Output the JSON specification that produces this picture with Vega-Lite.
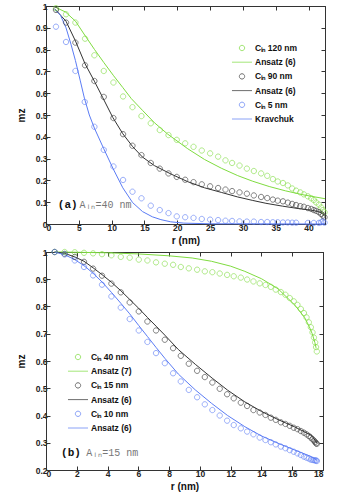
{
  "$schema": "https://vega.github.io/schema/vega-lite/v6.json",
  "background": "white",
  "padding": {"left": 15, "top": 1, "right": 5, "bottom": 3},
  "spacing": 1,
  "resolve": {"scale": {"color": "independent", "shape": "independent"}, "legend": {"color": "independent", "shape": "independent"}},
  "config": {
    "view": {"stroke": "#333", "strokeWidth": 1},
    "axis": {"grid": false, "tickSize": -4, "tickColor": "#333", "domainColor": "#333", "labelFont": "Liberation Sans", "labelFontWeight": "bold", "labelFontSize": 8.5, "labelColor": "#222", "titleFont": "Liberation Sans", "titleFontWeight": "bold", "titleFontSize": 10, "titleColor": "#111", "labelPadding": 3, "titlePadding": 4},
    "axisY": {"titlePadding": 9},
    "legend": {"labelFont": "Liberation Sans", "labelFontWeight": "bold", "labelFontSize": 8.5, "labelColor": "#111", "labelOffset": 6, "rowPadding": 2.2, "padding": 0, "symbolStrokeWidth": 1, "symbolSize": 169}
  },
  "datasets": {
    "a_pts": [
      {"s": "Cᵢₙ 120 nm", "r": 1.52, "m": 0.99}, {"s": "Cᵢₙ 120 nm", "r": 3.05, "m": 0.962}, {"s": "Cᵢₙ 120 nm", "r": 4.48, "m": 0.924}, {"s": "Cᵢₙ 120 nm", "r": 5.95, "m": 0.85}, {"s": "Cᵢₙ 120 nm", "r": 7.37, "m": 0.774}, {"s": "Cᵢₙ 120 nm", "r": 8.8, "m": 0.702}, {"s": "Cᵢₙ 120 nm", "r": 10.27, "m": 0.649}, {"s": "Cᵢₙ 120 nm", "r": 11.74, "m": 0.585}, {"s": "Cᵢₙ 120 nm", "r": 13.17, "m": 0.536}, {"s": "Cᵢₙ 120 nm", "r": 14.54, "m": 0.495}, {"s": "Cᵢₙ 120 nm", "r": 15.96, "m": 0.462}, {"s": "Cᵢₙ 120 nm", "r": 17.33, "m": 0.431}, {"s": "Cᵢₙ 120 nm", "r": 18.66, "m": 0.408}, {"s": "Cᵢₙ 120 nm", "r": 19.92, "m": 0.386}, {"s": "Cᵢₙ 120 nm", "r": 21.2, "m": 0.37}, {"s": "Cᵢₙ 120 nm", "r": 22.47, "m": 0.354}, {"s": "Cᵢₙ 120 nm", "r": 23.73, "m": 0.337}, {"s": "Cᵢₙ 120 nm", "r": 25.0, "m": 0.324}, {"s": "Cᵢₙ 120 nm", "r": 26.22, "m": 0.309}, {"s": "Cᵢₙ 120 nm", "r": 27.34, "m": 0.292}, {"s": "Cᵢₙ 120 nm", "r": 28.35, "m": 0.28}, {"s": "Cᵢₙ 120 nm", "r": 29.48, "m": 0.268}, {"s": "Cᵢₙ 120 nm", "r": 30.6, "m": 0.254}, {"s": "Cᵢₙ 120 nm", "r": 31.66, "m": 0.243}, {"s": "Cᵢₙ 120 nm", "r": 32.77, "m": 0.232}, {"s": "Cᵢₙ 120 nm", "r": 33.7, "m": 0.221}, {"s": "Cᵢₙ 120 nm", "r": 34.56, "m": 0.206}, {"s": "Cᵢₙ 120 nm", "r": 35.3, "m": 0.195}, {"s": "Cᵢₙ 120 nm", "r": 36.1, "m": 0.188}, {"s": "Cᵢₙ 120 nm", "r": 36.84, "m": 0.177}, {"s": "Cᵢₙ 120 nm", "r": 37.5, "m": 0.163}, {"s": "Cᵢₙ 120 nm", "r": 38.1, "m": 0.153}, {"s": "Cᵢₙ 120 nm", "r": 38.73, "m": 0.145}, {"s": "Cᵢₙ 120 nm", "r": 39.28, "m": 0.136}, {"s": "Cᵢₙ 120 nm", "r": 39.89, "m": 0.127}, {"s": "Cᵢₙ 120 nm", "r": 40.4, "m": 0.118}, {"s": "Cᵢₙ 120 nm", "r": 40.8, "m": 0.11}, {"s": "Cᵢₙ 120 nm", "r": 41.16, "m": 0.099}, {"s": "Cᵢₙ 120 nm", "r": 41.57, "m": 0.089}, {"s": "Cᵢₙ 120 nm", "r": 41.92, "m": 0.076}, {"s": "Cᵢₙ 120 nm", "r": 42.18, "m": 0.064}, {"s": "Cᵢₙ 120 nm", "r": 42.43, "m": 0.054},
      {"s": "Cᵢₙ 90 nm", "r": 1.52, "m": 0.982}, {"s": "Cᵢₙ 90 nm", "r": 3.05, "m": 0.924}, {"s": "Cᵢₙ 90 nm", "r": 4.48, "m": 0.832}, {"s": "Cᵢₙ 90 nm", "r": 5.95, "m": 0.728}, {"s": "Cᵢₙ 90 nm", "r": 7.37, "m": 0.656}, {"s": "Cᵢₙ 90 nm", "r": 8.8, "m": 0.583}, {"s": "Cᵢₙ 90 nm", "r": 10.27, "m": 0.486}, {"s": "Cᵢₙ 90 nm", "r": 11.74, "m": 0.412}, {"s": "Cᵢₙ 90 nm", "r": 13.17, "m": 0.359}, {"s": "Cᵢₙ 90 nm", "r": 14.54, "m": 0.316}, {"s": "Cᵢₙ 90 nm", "r": 15.96, "m": 0.28}, {"s": "Cᵢₙ 90 nm", "r": 17.33, "m": 0.254}, {"s": "Cᵢₙ 90 nm", "r": 18.66, "m": 0.232}, {"s": "Cᵢₙ 90 nm", "r": 19.92, "m": 0.216}, {"s": "Cᵢₙ 90 nm", "r": 21.2, "m": 0.203}, {"s": "Cᵢₙ 90 nm", "r": 22.47, "m": 0.192}, {"s": "Cᵢₙ 90 nm", "r": 23.73, "m": 0.182}, {"s": "Cᵢₙ 90 nm", "r": 25.0, "m": 0.173}, {"s": "Cᵢₙ 90 nm", "r": 26.22, "m": 0.165}, {"s": "Cᵢₙ 90 nm", "r": 27.34, "m": 0.158}, {"s": "Cᵢₙ 90 nm", "r": 28.35, "m": 0.151}, {"s": "Cᵢₙ 90 nm", "r": 29.48, "m": 0.145}, {"s": "Cᵢₙ 90 nm", "r": 30.6, "m": 0.139}, {"s": "Cᵢₙ 90 nm", "r": 31.66, "m": 0.131}, {"s": "Cᵢₙ 90 nm", "r": 32.77, "m": 0.124}, {"s": "Cᵢₙ 90 nm", "r": 33.7, "m": 0.119}, {"s": "Cᵢₙ 90 nm", "r": 34.56, "m": 0.112}, {"s": "Cᵢₙ 90 nm", "r": 35.3, "m": 0.107}, {"s": "Cᵢₙ 90 nm", "r": 36.1, "m": 0.104}, {"s": "Cᵢₙ 90 nm", "r": 36.84, "m": 0.098}, {"s": "Cᵢₙ 90 nm", "r": 37.5, "m": 0.092}, {"s": "Cᵢₙ 90 nm", "r": 38.1, "m": 0.087}, {"s": "Cᵢₙ 90 nm", "r": 38.73, "m": 0.082}, {"s": "Cᵢₙ 90 nm", "r": 39.28, "m": 0.079}, {"s": "Cᵢₙ 90 nm", "r": 39.89, "m": 0.073}, {"s": "Cᵢₙ 90 nm", "r": 40.4, "m": 0.069}, {"s": "Cᵢₙ 90 nm", "r": 40.8, "m": 0.064}, {"s": "Cᵢₙ 90 nm", "r": 41.16, "m": 0.06}, {"s": "Cᵢₙ 90 nm", "r": 41.57, "m": 0.054}, {"s": "Cᵢₙ 90 nm", "r": 41.92, "m": 0.046}, {"s": "Cᵢₙ 90 nm", "r": 42.18, "m": 0.038}, {"s": "Cᵢₙ 90 nm", "r": 42.43, "m": 0.031},
      {"s": "Cᵢₙ 5 nm", "r": 1.52, "m": 0.905}, {"s": "Cᵢₙ 5 nm", "r": 3.05, "m": 0.835}, {"s": "Cᵢₙ 5 nm", "r": 4.48, "m": 0.702}, {"s": "Cᵢₙ 5 nm", "r": 5.9, "m": 0.56}, {"s": "Cᵢₙ 5 nm", "r": 7.37, "m": 0.446}, {"s": "Cᵢₙ 5 nm", "r": 8.8, "m": 0.34}, {"s": "Cᵢₙ 5 nm", "r": 10.27, "m": 0.264}, {"s": "Cᵢₙ 5 nm", "r": 11.74, "m": 0.202}, {"s": "Cᵢₙ 5 nm", "r": 13.17, "m": 0.148}, {"s": "Cᵢₙ 5 nm", "r": 14.54, "m": 0.118}, {"s": "Cᵢₙ 5 nm", "r": 15.96, "m": 0.084}, {"s": "Cᵢₙ 5 nm", "r": 17.33, "m": 0.064}, {"s": "Cᵢₙ 5 nm", "r": 18.66, "m": 0.05}, {"s": "Cᵢₙ 5 nm", "r": 19.92, "m": 0.035}, {"s": "Cᵢₙ 5 nm", "r": 21.2, "m": 0.031}, {"s": "Cᵢₙ 5 nm", "r": 22.47, "m": 0.028}, {"s": "Cᵢₙ 5 nm", "r": 23.73, "m": 0.023}, {"s": "Cᵢₙ 5 nm", "r": 25.0, "m": 0.02}, {"s": "Cᵢₙ 5 nm", "r": 26.22, "m": 0.018}, {"s": "Cᵢₙ 5 nm", "r": 27.34, "m": 0.015}, {"s": "Cᵢₙ 5 nm", "r": 28.35, "m": 0.014}, {"s": "Cᵢₙ 5 nm", "r": 29.48, "m": 0.012}, {"s": "Cᵢₙ 5 nm", "r": 30.6, "m": 0.011}, {"s": "Cᵢₙ 5 nm", "r": 31.66, "m": 0.011}, {"s": "Cᵢₙ 5 nm", "r": 32.77, "m": 0.009}, {"s": "Cᵢₙ 5 nm", "r": 33.7, "m": 0.009}, {"s": "Cᵢₙ 5 nm", "r": 34.56, "m": 0.008}, {"s": "Cᵢₙ 5 nm", "r": 35.3, "m": 0.008}, {"s": "Cᵢₙ 5 nm", "r": 36.1, "m": 0.007}, {"s": "Cᵢₙ 5 nm", "r": 36.84, "m": 0.007}, {"s": "Cᵢₙ 5 nm", "r": 37.5, "m": 0.006}, {"s": "Cᵢₙ 5 nm", "r": 38.1, "m": 0.006}, {"s": "Cᵢₙ 5 nm", "r": 39.89, "m": 0.005}, {"s": "Cᵢₙ 5 nm", "r": 40.8, "m": 0.005}, {"s": "Cᵢₙ 5 nm", "r": 41.57, "m": 0.005}, {"s": "Cᵢₙ 5 nm", "r": 41.92, "m": 0.008}, {"s": "Cᵢₙ 5 nm", "r": 42.18, "m": 0.012}, {"s": "Cᵢₙ 5 nm", "r": 42.43, "m": 0.006}
    ],
    "a_lines": [
      {"s": "Ansatz (6)", "r": 1.4, "m": 0.995}, {"s": "Ansatz (6)", "r": 3.0, "m": 0.972}, {"s": "Ansatz (6)", "r": 4.5, "m": 0.93}, {"s": "Ansatz (6)", "r": 6.0, "m": 0.862}, {"s": "Ansatz (6)", "r": 7.4, "m": 0.8}, {"s": "Ansatz (6)", "r": 8.8, "m": 0.741}, {"s": "Ansatz (6)", "r": 10.3, "m": 0.68}, {"s": "Ansatz (6)", "r": 11.7, "m": 0.626}, {"s": "Ansatz (6)", "r": 13.0, "m": 0.575}, {"s": "Ansatz (6)", "r": 14.74, "m": 0.52}, {"s": "Ansatz (6)", "r": 16.5, "m": 0.465}, {"s": "Ansatz (6)", "r": 18.55, "m": 0.412}, {"s": "Ansatz (6)", "r": 21.6, "m": 0.345}, {"s": "Ansatz (6)", "r": 24.15, "m": 0.296}, {"s": "Ansatz (6)", "r": 26.7, "m": 0.256}, {"s": "Ansatz (6)", "r": 29.2, "m": 0.222}, {"s": "Ansatz (6)", "r": 31.5, "m": 0.196}, {"s": "Ansatz (6)", "r": 34.0, "m": 0.172}, {"s": "Ansatz (6)", "r": 36.5, "m": 0.152}, {"s": "Ansatz (6)", "r": 39.0, "m": 0.135}, {"s": "Ansatz (6)", "r": 41.0, "m": 0.124}, {"s": "Ansatz (6)", "r": 42.5, "m": 0.116},
      {"s": "Ansatz (6) ", "r": 1.4, "m": 0.985}, {"s": "Ansatz (6) ", "r": 3.05, "m": 0.93}, {"s": "Ansatz (6) ", "r": 4.48, "m": 0.84}, {"s": "Ansatz (6) ", "r": 5.95, "m": 0.735}, {"s": "Ansatz (6) ", "r": 7.37, "m": 0.655}, {"s": "Ansatz (6) ", "r": 8.64, "m": 0.58}, {"s": "Ansatz (6) ", "r": 10.17, "m": 0.489}, {"s": "Ansatz (6) ", "r": 11.7, "m": 0.414}, {"s": "Ansatz (6) ", "r": 13.2, "m": 0.355}, {"s": "Ansatz (6) ", "r": 14.7, "m": 0.307}, {"s": "Ansatz (6) ", "r": 16.5, "m": 0.268}, {"s": "Ansatz (6) ", "r": 19.05, "m": 0.229}, {"s": "Ansatz (6) ", "r": 21.6, "m": 0.194}, {"s": "Ansatz (6) ", "r": 24.15, "m": 0.166}, {"s": "Ansatz (6) ", "r": 26.7, "m": 0.145}, {"s": "Ansatz (6) ", "r": 29.2, "m": 0.124}, {"s": "Ansatz (6) ", "r": 31.5, "m": 0.108}, {"s": "Ansatz (6) ", "r": 33.5, "m": 0.095}, {"s": "Ansatz (6) ", "r": 36.0, "m": 0.082}, {"s": "Ansatz (6) ", "r": 38.4, "m": 0.071}, {"s": "Ansatz (6) ", "r": 40.5, "m": 0.063}, {"s": "Ansatz (6) ", "r": 41.5, "m": 0.057}, {"s": "Ansatz (6) ", "r": 42.0, "m": 0.05}, {"s": "Ansatz (6) ", "r": 42.5, "m": 0.035},
      {"s": "Kravchuk", "r": 1.3, "m": 0.985}, {"s": "Kravchuk", "r": 2.2, "m": 0.958}, {"s": "Kravchuk", "r": 3.05, "m": 0.9}, {"s": "Kravchuk", "r": 3.8, "m": 0.825}, {"s": "Kravchuk", "r": 4.48, "m": 0.75}, {"s": "Kravchuk", "r": 5.2, "m": 0.66}, {"s": "Kravchuk", "r": 5.85, "m": 0.577}, {"s": "Kravchuk", "r": 6.6, "m": 0.5}, {"s": "Kravchuk", "r": 7.37, "m": 0.44}, {"s": "Kravchuk", "r": 8.8, "m": 0.345}, {"s": "Kravchuk", "r": 10.2, "m": 0.255}, {"s": "Kravchuk", "r": 11.7, "m": 0.166}, {"s": "Kravchuk", "r": 13.2, "m": 0.098}, {"s": "Kravchuk", "r": 14.7, "m": 0.057}, {"s": "Kravchuk", "r": 16.2, "m": 0.033}, {"s": "Kravchuk", "r": 17.5, "m": 0.02}, {"s": "Kravchuk", "r": 19.0, "m": 0.01}, {"s": "Kravchuk", "r": 21.0, "m": 0.004}, {"s": "Kravchuk", "r": 25.0, "m": 0.001}, {"s": "Kravchuk", "r": 42.5, "m": 0.0}
    ],
    "a_text": [
      {"r": 1.8, "m": 0.087, "t": "(a)", "k": "tag"},
      {"r": 5.1, "m": 0.087, "t": "Aᵢₙ=40 nm", "k": "val"}
    ],
    "b_pts": [
      {"s": "Cᵢₙ 40 nm", "r": 0.56, "m": 1.0}, {"s": "Cᵢₙ 40 nm", "r": 1.21, "m": 1.0}, {"s": "Cᵢₙ 40 nm", "r": 1.87, "m": 0.999}, {"s": "Cᵢₙ 40 nm", "r": 2.47, "m": 0.997}, {"s": "Cᵢₙ 40 nm", "r": 3.06, "m": 0.995}, {"s": "Cᵢₙ 40 nm", "r": 3.64, "m": 0.992}, {"s": "Cᵢₙ 40 nm", "r": 4.25, "m": 0.988}, {"s": "Cᵢₙ 40 nm", "r": 4.86, "m": 0.982}, {"s": "Cᵢₙ 40 nm", "r": 5.44, "m": 0.979}, {"s": "Cᵢₙ 40 nm", "r": 6.03, "m": 0.972}, {"s": "Cᵢₙ 40 nm", "r": 6.59, "m": 0.969}, {"s": "Cᵢₙ 40 nm", "r": 7.15, "m": 0.962}, {"s": "Cᵢₙ 40 nm", "r": 7.72, "m": 0.957}, {"s": "Cᵢₙ 40 nm", "r": 8.26, "m": 0.953}, {"s": "Cᵢₙ 40 nm", "r": 8.76, "m": 0.945}, {"s": "Cᵢₙ 40 nm", "r": 9.28, "m": 0.94}, {"s": "Cᵢₙ 40 nm", "r": 9.82, "m": 0.935}, {"s": "Cᵢₙ 40 nm", "r": 10.32, "m": 0.929}, {"s": "Cᵢₙ 40 nm", "r": 10.81, "m": 0.926}, {"s": "Cᵢₙ 40 nm", "r": 11.29, "m": 0.921}, {"s": "Cᵢₙ 40 nm", "r": 11.77, "m": 0.916}, {"s": "Cᵢₙ 40 nm", "r": 12.2, "m": 0.911}, {"s": "Cᵢₙ 40 nm", "r": 12.66, "m": 0.906}, {"s": "Cᵢₙ 40 nm", "r": 13.07, "m": 0.899}, {"s": "Cᵢₙ 40 nm", "r": 13.48, "m": 0.892}, {"s": "Cᵢₙ 40 nm", "r": 13.89, "m": 0.885}, {"s": "Cᵢₙ 40 nm", "r": 14.26, "m": 0.879}, {"s": "Cᵢₙ 40 nm", "r": 14.61, "m": 0.872}, {"s": "Cᵢₙ 40 nm", "r": 14.93, "m": 0.862}, {"s": "Cᵢₙ 40 nm", "r": 15.26, "m": 0.853}, {"s": "Cᵢₙ 40 nm", "r": 15.56, "m": 0.843}, {"s": "Cᵢₙ 40 nm", "r": 15.84, "m": 0.831}, {"s": "Cᵢₙ 40 nm", "r": 16.1, "m": 0.819}, {"s": "Cᵢₙ 40 nm", "r": 16.34, "m": 0.806}, {"s": "Cᵢₙ 40 nm", "r": 16.56, "m": 0.791}, {"s": "Cᵢₙ 40 nm", "r": 16.76, "m": 0.776}, {"s": "Cᵢₙ 40 nm", "r": 16.93, "m": 0.76}, {"s": "Cᵢₙ 40 nm", "r": 17.08, "m": 0.742}, {"s": "Cᵢₙ 40 nm", "r": 17.21, "m": 0.724}, {"s": "Cᵢₙ 40 nm", "r": 17.32, "m": 0.705}, {"s": "Cᵢₙ 40 nm", "r": 17.41, "m": 0.686}, {"s": "Cᵢₙ 40 nm", "r": 17.49, "m": 0.668}, {"s": "Cᵢₙ 40 nm", "r": 17.55, "m": 0.651}, {"s": "Cᵢₙ 40 nm", "r": 17.6, "m": 0.635},
      {"s": "Cᵢₙ 15 nm", "r": 0.56, "m": 1.0}, {"s": "Cᵢₙ 15 nm", "r": 1.21, "m": 0.993}, {"s": "Cᵢₙ 15 nm", "r": 1.87, "m": 0.982}, {"s": "Cᵢₙ 15 nm", "r": 2.47, "m": 0.964}, {"s": "Cᵢₙ 15 nm", "r": 3.06, "m": 0.939}, {"s": "Cᵢₙ 15 nm", "r": 3.64, "m": 0.913}, {"s": "Cᵢₙ 15 nm", "r": 4.25, "m": 0.884}, {"s": "Cᵢₙ 15 nm", "r": 4.86, "m": 0.852}, {"s": "Cᵢₙ 15 nm", "r": 5.44, "m": 0.815}, {"s": "Cᵢₙ 15 nm", "r": 6.03, "m": 0.782}, {"s": "Cᵢₙ 15 nm", "r": 6.59, "m": 0.745}, {"s": "Cᵢₙ 15 nm", "r": 7.15, "m": 0.712}, {"s": "Cᵢₙ 15 nm", "r": 7.72, "m": 0.678}, {"s": "Cᵢₙ 15 nm", "r": 8.26, "m": 0.647}, {"s": "Cᵢₙ 15 nm", "r": 8.76, "m": 0.619}, {"s": "Cᵢₙ 15 nm", "r": 9.28, "m": 0.59}, {"s": "Cᵢₙ 15 nm", "r": 9.82, "m": 0.564}, {"s": "Cᵢₙ 15 nm", "r": 10.32, "m": 0.541}, {"s": "Cᵢₙ 15 nm", "r": 10.81, "m": 0.521}, {"s": "Cᵢₙ 15 nm", "r": 11.29, "m": 0.498}, {"s": "Cᵢₙ 15 nm", "r": 11.77, "m": 0.478}, {"s": "Cᵢₙ 15 nm", "r": 12.2, "m": 0.463}, {"s": "Cᵢₙ 15 nm", "r": 12.66, "m": 0.447}, {"s": "Cᵢₙ 15 nm", "r": 13.07, "m": 0.435}, {"s": "Cᵢₙ 15 nm", "r": 13.48, "m": 0.42}, {"s": "Cᵢₙ 15 nm", "r": 13.89, "m": 0.411}, {"s": "Cᵢₙ 15 nm", "r": 14.26, "m": 0.402}, {"s": "Cᵢₙ 15 nm", "r": 14.61, "m": 0.392}, {"s": "Cᵢₙ 15 nm", "r": 14.93, "m": 0.384}, {"s": "Cᵢₙ 15 nm", "r": 15.26, "m": 0.375}, {"s": "Cᵢₙ 15 nm", "r": 15.56, "m": 0.369}, {"s": "Cᵢₙ 15 nm", "r": 15.84, "m": 0.362}, {"s": "Cᵢₙ 15 nm", "r": 16.1, "m": 0.355}, {"s": "Cᵢₙ 15 nm", "r": 16.34, "m": 0.35}, {"s": "Cᵢₙ 15 nm", "r": 16.56, "m": 0.343}, {"s": "Cᵢₙ 15 nm", "r": 16.76, "m": 0.337}, {"s": "Cᵢₙ 15 nm", "r": 16.93, "m": 0.331}, {"s": "Cᵢₙ 15 nm", "r": 17.08, "m": 0.325}, {"s": "Cᵢₙ 15 nm", "r": 17.21, "m": 0.319}, {"s": "Cᵢₙ 15 nm", "r": 17.32, "m": 0.313}, {"s": "Cᵢₙ 15 nm", "r": 17.41, "m": 0.308}, {"s": "Cᵢₙ 15 nm", "r": 17.49, "m": 0.303}, {"s": "Cᵢₙ 15 nm", "r": 17.55, "m": 0.298}, {"s": "Cᵢₙ 15 nm", "r": 17.6, "m": 0.296},
      {"s": "Cᵢₙ 10 nm", "r": 0.56, "m": 1.0}, {"s": "Cᵢₙ 10 nm", "r": 1.21, "m": 0.991}, {"s": "Cᵢₙ 10 nm", "r": 1.87, "m": 0.969}, {"s": "Cᵢₙ 10 nm", "r": 2.47, "m": 0.945}, {"s": "Cᵢₙ 10 nm", "r": 3.06, "m": 0.914}, {"s": "Cᵢₙ 10 nm", "r": 3.64, "m": 0.88}, {"s": "Cᵢₙ 10 nm", "r": 4.25, "m": 0.837}, {"s": "Cᵢₙ 10 nm", "r": 4.86, "m": 0.796}, {"s": "Cᵢₙ 10 nm", "r": 5.44, "m": 0.754}, {"s": "Cᵢₙ 10 nm", "r": 6.03, "m": 0.712}, {"s": "Cᵢₙ 10 nm", "r": 6.59, "m": 0.67}, {"s": "Cᵢₙ 10 nm", "r": 7.15, "m": 0.629}, {"s": "Cᵢₙ 10 nm", "r": 7.72, "m": 0.592}, {"s": "Cᵢₙ 10 nm", "r": 8.26, "m": 0.555}, {"s": "Cᵢₙ 10 nm", "r": 8.76, "m": 0.525}, {"s": "Cᵢₙ 10 nm", "r": 9.28, "m": 0.494}, {"s": "Cᵢₙ 10 nm", "r": 9.82, "m": 0.467}, {"s": "Cᵢₙ 10 nm", "r": 10.32, "m": 0.441}, {"s": "Cᵢₙ 10 nm", "r": 10.81, "m": 0.42}, {"s": "Cᵢₙ 10 nm", "r": 11.29, "m": 0.4}, {"s": "Cᵢₙ 10 nm", "r": 11.77, "m": 0.381}, {"s": "Cᵢₙ 10 nm", "r": 12.2, "m": 0.365}, {"s": "Cᵢₙ 10 nm", "r": 12.66, "m": 0.353}, {"s": "Cᵢₙ 10 nm", "r": 13.07, "m": 0.341}, {"s": "Cᵢₙ 10 nm", "r": 13.48, "m": 0.331}, {"s": "Cᵢₙ 10 nm", "r": 13.89, "m": 0.319}, {"s": "Cᵢₙ 10 nm", "r": 14.26, "m": 0.31}, {"s": "Cᵢₙ 10 nm", "r": 14.61, "m": 0.302}, {"s": "Cᵢₙ 10 nm", "r": 14.93, "m": 0.294}, {"s": "Cᵢₙ 10 nm", "r": 15.26, "m": 0.286}, {"s": "Cᵢₙ 10 nm", "r": 15.56, "m": 0.28}, {"s": "Cᵢₙ 10 nm", "r": 15.84, "m": 0.273}, {"s": "Cᵢₙ 10 nm", "r": 16.1, "m": 0.267}, {"s": "Cᵢₙ 10 nm", "r": 16.34, "m": 0.261}, {"s": "Cᵢₙ 10 nm", "r": 16.56, "m": 0.255}, {"s": "Cᵢₙ 10 nm", "r": 16.76, "m": 0.249}, {"s": "Cᵢₙ 10 nm", "r": 16.93, "m": 0.245}, {"s": "Cᵢₙ 10 nm", "r": 17.08, "m": 0.242}, {"s": "Cᵢₙ 10 nm", "r": 17.21, "m": 0.238}, {"s": "Cᵢₙ 10 nm", "r": 17.32, "m": 0.237}, {"s": "Cᵢₙ 10 nm", "r": 17.41, "m": 0.236}, {"s": "Cᵢₙ 10 nm", "r": 17.49, "m": 0.235}, {"s": "Cᵢₙ 10 nm", "r": 17.55, "m": 0.235}, {"s": "Cᵢₙ 10 nm", "r": 17.6, "m": 0.233}
    ],
    "b_lines": [
      {"s": "Ansatz (7)", "r": 0.56, "m": 1.0}, {"s": "Ansatz (7)", "r": 2.0, "m": 0.999}, {"s": "Ansatz (7)", "r": 4.0, "m": 0.997}, {"s": "Ansatz (7)", "r": 6.0, "m": 0.993}, {"s": "Ansatz (7)", "r": 8.0, "m": 0.986}, {"s": "Ansatz (7)", "r": 9.5, "m": 0.978}, {"s": "Ansatz (7)", "r": 10.75, "m": 0.966}, {"s": "Ansatz (7)", "r": 12.0, "m": 0.948}, {"s": "Ansatz (7)", "r": 12.92, "m": 0.929}, {"s": "Ansatz (7)", "r": 14.0, "m": 0.902}, {"s": "Ansatz (7)", "r": 15.08, "m": 0.865}, {"s": "Ansatz (7)", "r": 16.17, "m": 0.805}, {"s": "Ansatz (7)", "r": 16.8, "m": 0.76}, {"s": "Ansatz (7)", "r": 17.1, "m": 0.727}, {"s": "Ansatz (7)", "r": 17.3, "m": 0.7}, {"s": "Ansatz (7)", "r": 17.47, "m": 0.668}, {"s": "Ansatz (7)", "r": 17.55, "m": 0.648},
      {"s": "Ansatz (6)", "r": 0.56, "m": 1.0}, {"s": "Ansatz (6)", "r": 1.21, "m": 0.995}, {"s": "Ansatz (6)", "r": 1.87, "m": 0.982}, {"s": "Ansatz (6)", "r": 2.47, "m": 0.966}, {"s": "Ansatz (6)", "r": 3.06, "m": 0.942}, {"s": "Ansatz (6)", "r": 3.64, "m": 0.917}, {"s": "Ansatz (6)", "r": 4.25, "m": 0.889}, {"s": "Ansatz (6)", "r": 4.86, "m": 0.858}, {"s": "Ansatz (6)", "r": 5.44, "m": 0.826}, {"s": "Ansatz (6)", "r": 6.03, "m": 0.793}, {"s": "Ansatz (6)", "r": 6.59, "m": 0.76}, {"s": "Ansatz (6)", "r": 7.15, "m": 0.728}, {"s": "Ansatz (6)", "r": 7.72, "m": 0.695}, {"s": "Ansatz (6)", "r": 8.6, "m": 0.642}, {"s": "Ansatz (6)", "r": 9.7, "m": 0.588}, {"s": "Ansatz (6)", "r": 10.8, "m": 0.537}, {"s": "Ansatz (6)", "r": 11.8, "m": 0.493}, {"s": "Ansatz (6)", "r": 12.92, "m": 0.45}, {"s": "Ansatz (6)", "r": 14.0, "m": 0.415}, {"s": "Ansatz (6)", "r": 15.08, "m": 0.385}, {"s": "Ansatz (6)", "r": 16.17, "m": 0.358}, {"s": "Ansatz (6)", "r": 17.25, "m": 0.327}, {"s": "Ansatz (6)", "r": 17.5, "m": 0.308}, {"s": "Ansatz (6)", "r": 17.6, "m": 0.298},
      {"s": "Ansatz (6) ", "r": 0.56, "m": 1.0}, {"s": "Ansatz (6) ", "r": 1.21, "m": 0.99}, {"s": "Ansatz (6) ", "r": 1.87, "m": 0.972}, {"s": "Ansatz (6) ", "r": 2.47, "m": 0.95}, {"s": "Ansatz (6) ", "r": 3.06, "m": 0.922}, {"s": "Ansatz (6) ", "r": 3.64, "m": 0.89}, {"s": "Ansatz (6) ", "r": 4.25, "m": 0.852}, {"s": "Ansatz (6) ", "r": 4.86, "m": 0.812}, {"s": "Ansatz (6) ", "r": 5.44, "m": 0.773}, {"s": "Ansatz (6) ", "r": 6.03, "m": 0.73}, {"s": "Ansatz (6) ", "r": 6.59, "m": 0.69}, {"s": "Ansatz (6) ", "r": 7.15, "m": 0.65}, {"s": "Ansatz (6) ", "r": 7.72, "m": 0.61}, {"s": "Ansatz (6) ", "r": 8.6, "m": 0.552}, {"s": "Ansatz (6) ", "r": 9.7, "m": 0.494}, {"s": "Ansatz (6) ", "r": 10.75, "m": 0.445}, {"s": "Ansatz (6) ", "r": 11.8, "m": 0.4}, {"s": "Ansatz (6) ", "r": 12.92, "m": 0.359}, {"s": "Ansatz (6) ", "r": 14.0, "m": 0.325}, {"s": "Ansatz (6) ", "r": 15.08, "m": 0.298}, {"s": "Ansatz (6) ", "r": 16.17, "m": 0.273}, {"s": "Ansatz (6) ", "r": 17.25, "m": 0.249}, {"s": "Ansatz (6) ", "r": 17.6, "m": 0.236}
    ],
    "b_text": [
      {"r": 0.98, "m": 0.261, "t": "(b)", "k": "tag"},
      {"r": 2.62, "m": 0.261, "t": "Aᵢₙ=15 nm", "k": "val"}
    ]
  },
  "vconcat": [
    {
      "width": 279,
      "height": 218,
      "layer": [
        {
          "data": {"name": "a_lines"},
          "mark": {"type": "line", "strokeWidth": 1},
          "encoding": {
            "x": {"field": "r", "type": "quantitative", "scale": {"domain": [0, 42.5], "nice": false, "zero": false}, "axis": {"orient": "top", "labels": false, "title": null, "values": [0, 5, 10, 15, 20, 25, 30, 35, 40]}},
            "y": {"field": "m", "type": "quantitative", "scale": {"domain": [0, 1], "nice": false}, "axis": {"orient": "right", "labels": false, "title": null, "values": [0, 0.1, 0.2, 0.3, 0.4, 0.5, 0.6, 0.7, 0.8, 0.9, 1]}},
            "color": {"field": "s", "type": "nominal",
              "scale": {"domain": ["Cᵢₙ 120 nm", "Ansatz (6)", "Cᵢₙ 90 nm", "Ansatz (6) ", "Cᵢₙ 5 nm", "Kravchuk"], "range": ["#7fdc40", "#7fdc40", "#333333", "#333333", "#5b7cf5", "#5b7cf5"]},
              "legend": {"title": null, "orient": "none", "legendX": 189, "legendY": 35, "rowPadding": 2.2}}
          }
        },
        {
          "data": {"name": "a_pts"},
          "mark": {"type": "point", "filled": false, "strokeWidth": 0.9, "size": 169},
          "encoding": {
            "x": {"field": "r", "type": "quantitative", "axis": {"orient": "bottom", "title": "r (nm)", "values": [0, 5, 10, 15, 20, 25, 30, 35, 40]}},
            "y": {"field": "m", "type": "quantitative", "axis": {"orient": "left", "title": "mz", "format": ".1~f", "values": [0, 0.1, 0.2, 0.3, 0.4, 0.5, 0.6, 0.7, 0.8, 0.9, 1]}},
            "color": {"field": "s", "type": "nominal"},
            "shape": {"field": "s", "type": "nominal",
              "scale": {"domain": ["Cᵢₙ 120 nm", "Ansatz (6)", "Cᵢₙ 90 nm", "Ansatz (6) ", "Cᵢₙ 5 nm", "Kravchuk"], "range": ["M-0.41,0A0.41,0.41 0 1,0 0.41,0A0.41,0.41 0 1,0 -0.41,0Z", "M-1.54,0L1.54,0", "M-0.41,0A0.41,0.41 0 1,0 0.41,0A0.41,0.41 0 1,0 -0.41,0Z", "M-1.54,0L1.54,0", "M-0.41,0A0.41,0.41 0 1,0 0.41,0A0.41,0.41 0 1,0 -0.41,0Z", "M-1.54,0L1.54,0"]},
              "legend": {"title": null, "orient": "none", "legendX": 189, "legendY": 35, "rowPadding": 2.2}}
          }
        },
        {
          "data": {"name": "a_text"},
          "transform": [{"filter": "datum.k == 'tag'"}],
          "mark": {"type": "text", "align": "left", "baseline": "middle", "font": "Liberation Mono", "fontWeight": "bold", "fontSize": 11, "color": "#111"},
          "encoding": {
            "x": {"field": "r", "type": "quantitative", "axis": null},
            "y": {"field": "m", "type": "quantitative", "axis": null},
            "text": {"field": "t"}
          }
        },
        {
          "data": {"name": "a_text"},
          "transform": [{"filter": "datum.k == 'val'"}],
          "mark": {"type": "text", "align": "left", "baseline": "middle", "font": "Liberation Mono", "fontSize": 10, "color": "#777"},
          "encoding": {
            "x": {"field": "r", "type": "quantitative", "axis": null},
            "y": {"field": "m", "type": "quantitative", "axis": null},
            "text": {"field": "t"}
          }
        }
      ],
      "resolve": {"axis": {"x": "independent", "y": "independent"}}
    },
    {
      "width": 277,
      "height": 218,
      "layer": [
        {
          "data": {"name": "b_lines"},
          "mark": {"type": "line", "strokeWidth": 1},
          "encoding": {
            "x": {"field": "r", "type": "quantitative", "scale": {"domain": [0, 18], "nice": false, "zero": false}, "axis": {"orient": "top", "labels": false, "title": null, "values": [0, 2, 4, 6, 8, 10, 12, 14, 16, 18]}},
            "y": {"field": "m", "type": "quantitative", "scale": {"domain": [0.2, 1], "nice": false, "zero": false}, "axis": {"orient": "right", "labels": false, "title": null, "values": [0.2, 0.3, 0.4, 0.5, 0.6, 0.7, 0.8, 0.9, 1]}},
            "color": {"field": "s", "type": "nominal",
              "scale": {"domain": ["Cᵢₙ 40 nm", "Ansatz (7)", "Cᵢₙ 15 nm", "Ansatz (6)", "Cᵢₙ 10 nm", "Ansatz (6) "], "range": ["#7fdc40", "#7fdc40", "#333333", "#333333", "#5b7cf5", "#5b7cf5"]},
              "legend": {"title": null, "orient": "none", "legendX": 25, "legendY": 98, "rowPadding": 2.2}}
          }
        },
        {
          "data": {"name": "b_pts"},
          "mark": {"type": "point", "filled": false, "strokeWidth": 0.9, "size": 169},
          "encoding": {
            "x": {"field": "r", "type": "quantitative", "axis": {"orient": "bottom", "title": "r (nm)", "values": [0, 2, 4, 6, 8, 10, 12, 14, 16, 18]}},
            "y": {"field": "m", "type": "quantitative", "axis": {"orient": "left", "title": "mz", "format": ".1~f", "values": [0.2, 0.3, 0.4, 0.5, 0.6, 0.7, 0.8, 0.9, 1]}},
            "color": {"field": "s", "type": "nominal"},
            "shape": {"field": "s", "type": "nominal",
              "scale": {"domain": ["Cᵢₙ 40 nm", "Ansatz (7)", "Cᵢₙ 15 nm", "Ansatz (6)", "Cᵢₙ 10 nm", "Ansatz (6) "], "range": ["M-0.41,0A0.41,0.41 0 1,0 0.41,0A0.41,0.41 0 1,0 -0.41,0Z", "M-1.54,0L1.54,0", "M-0.41,0A0.41,0.41 0 1,0 0.41,0A0.41,0.41 0 1,0 -0.41,0Z", "M-1.54,0L1.54,0", "M-0.41,0A0.41,0.41 0 1,0 0.41,0A0.41,0.41 0 1,0 -0.41,0Z", "M-1.54,0L1.54,0"]},
              "legend": {"title": null, "orient": "none", "legendX": 25, "legendY": 98, "rowPadding": 2.2}}
          }
        },
        {
          "data": {"name": "b_text"},
          "transform": [{"filter": "datum.k == 'tag'"}],
          "mark": {"type": "text", "align": "left", "baseline": "middle", "font": "Liberation Mono", "fontWeight": "bold", "fontSize": 11, "color": "#111"},
          "encoding": {
            "x": {"field": "r", "type": "quantitative", "axis": null},
            "y": {"field": "m", "type": "quantitative", "axis": null},
            "text": {"field": "t"}
          }
        },
        {
          "data": {"name": "b_text"},
          "transform": [{"filter": "datum.k == 'val'"}],
          "mark": {"type": "text", "align": "left", "baseline": "middle", "font": "Liberation Mono", "fontSize": 10, "color": "#777"},
          "encoding": {
            "x": {"field": "r", "type": "quantitative", "axis": null},
            "y": {"field": "m", "type": "quantitative", "axis": null},
            "text": {"field": "t"}
          }
        }
      ],
      "resolve": {"axis": {"x": "independent", "y": "independent"}}
    }
  ]
}
